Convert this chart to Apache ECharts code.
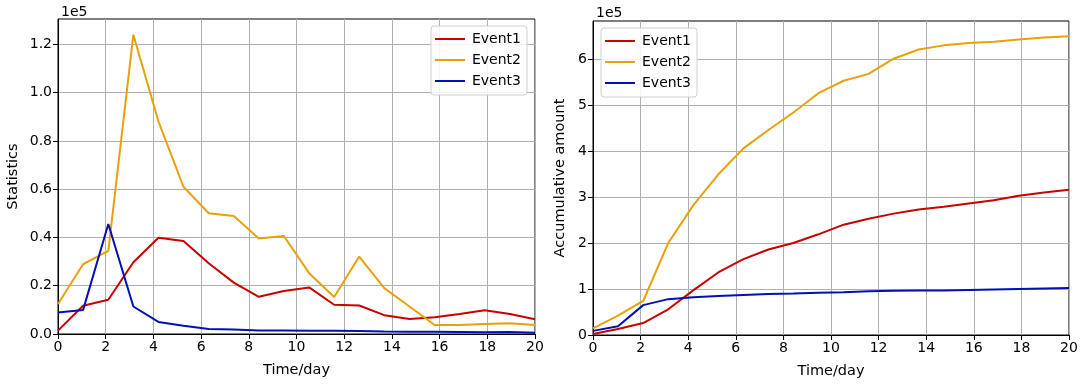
<!DOCTYPE html>
<html>
<head>
<meta charset="utf-8">
<script src="https://cdn.jsdelivr.net/npm/echarts@6/dist/echarts.min.js"></script>
<style>
  html, body { margin: 0; padding: 0; background: #fff; }
  #chart { width: 1084px; height: 384px; }
</style>
</head>
<body>
<div id="chart"></div>
<script>
// time points (day)
const days = [0, 1.05, 2.11, 3.16, 4.21, 5.26, 6.32, 7.37, 8.42, 9.47,
  10.53, 11.58, 12.63, 13.68, 14.74, 15.79, 16.84, 17.89, 18.95, 20]

// daily statistics
const stat1 = [1400, 11700, 14200, 29700, 39900, 38500, 29300, 21300, 15400, 17800,
  19300, 12100, 11800, 7800, 6200, 6900, 8300, 9800, 8300, 6100]
const stat2 = [12400, 28900, 34400, 124000, 88100, 61000, 50000, 48900, 39600, 40600,
  25200, 15300, 32100, 19000, 11400, 3700, 3700, 4100, 4500, 3700]
const stat3 = [8900, 9900, 45600, 11400, 5000, 3400, 2100, 1900, 1500, 1400,
  1300, 1300, 1200, 1000, 900, 900, 800, 700, 800, 500]

// accumulative amount
const acc1 = [2000, 13000, 26000, 56000, 97000, 136000, 165000, 186000, 200000, 219000,
  240000, 253000, 264000, 273000, 279000, 286000, 293000, 303000, 310000, 316000]
const acc2 = [14400, 42000, 74000, 200000, 282000, 349000, 406000, 446000, 484000, 526000,
  553000, 568000, 601000, 621000, 630000, 635000, 638000, 643000, 647000, 650000]
const acc3 = [9000, 19000, 65000, 78000, 82000, 85000, 87000, 89000, 90000, 92000,
  93000, 95000, 96000, 97000, 97000, 98000, 99000, 100000, 101000, 102000]

const statTicks = [0, 20000, 40000, 60000, 80000, 100000, 120000]
const accTicks = [0, 100000, 200000, 300000, 400000, 500000, 600000]

const names = ['Event1', 'Event2', 'Event3']
const colors = ['#c80000', '#e8a10a', '#0010b4']

const FONT = 'DejaVu Sans'
const txt = { fontFamily: FONT, fontSize: 14, color: '#000' }

function pairs(ys) {
  return days.map((d, i) => [d, ys[i]])
}

function xAxis(gridIndex) {
  return {
    type: 'value',
    gridIndex,
    min: 0,
    max: 20,
    interval: 2,
    name: 'Time/day',
    nameLocation: 'middle',
    nameGap: 29,
    nameTextStyle: { ...txt, fontSize: 14.5 },
    axisLine: { show: true, lineStyle: { color: '#000', width: 1 } },
    axisTick: { show: true, length: 5, lineStyle: { color: '#000' } },
    axisLabel: { ...txt, margin: 6 },
    splitLine: { show: true, lineStyle: { color: '#b0b0b0', width: 1 } },
  }
}

function yAxis(gridIndex, max, ticks, name, nameGap, fmt) {
  return {
    type: 'value',
    gridIndex,
    min: 0,
    max,
    name,
    nameLocation: 'middle',
    nameGap,
    nameTextStyle: { ...txt, fontSize: 14.5 },
    axisLine: { show: true, lineStyle: { color: '#000', width: 1 } },
    axisTick: { show: true, length: 5, lineStyle: { color: '#000' }, customValues: ticks },
    axisLabel: { ...txt, margin: 6, customValues: ticks, formatter: fmt },
    splitLine: { show: true, lineStyle: { color: '#b0b0b0', width: 1 } },
  }
}

function legend(pos) {
  return {
    ...pos,
    orient: 'vertical',
    data: names,
    icon: 'rect',
    itemWidth: 30,
    itemHeight: 2,
    itemGap: 5,
    padding: [5, 6, 6, 4],
    borderColor: '#d0d0d0',
    borderWidth: 1,
    borderRadius: 3,
    backgroundColor: 'rgba(255,255,255,0.85)',
    textStyle: { ...txt, lineHeight: 16, padding: [0, 0, 0, 2] },
  }
}

function lines(ySets, axisIndex) {
  return ySets.map((ys, i) => ({
    name: names[i],
    type: 'line',
    xAxisIndex: axisIndex,
    yAxisIndex: axisIndex,
    data: pairs(ys),
    showSymbol: false,
    animation: false,
    lineStyle: { color: colors[i], width: 2 },
    itemStyle: { color: colors[i] },
  }))
}

const chart = echarts.init(document.getElementById('chart'), null, { renderer: 'canvas' })
chart.setOption({
  backgroundColor: '#fff',
  animation: false,
  title: [
    { text: '1e5', left: 56, top: 0, textStyle: { ...txt, fontWeight: 'normal' } },
    { text: '1e5', left: 591, top: 1, textStyle: { ...txt, fontWeight: 'normal' } },
  ],
  grid: [
    { left: 58, right: 549, top: 19, bottom: 50, show: true, borderColor: '#000', borderWidth: 1 },
    { left: 593, right: 15, top: 21, bottom: 48, show: true, borderColor: '#000', borderWidth: 1 },
  ],
  legend: [
    legend({ right: 557, top: 26 }),
    legend({ left: 601, top: 28 }),
  ],
  xAxis: [xAxis(0), xAxis(1)],
  yAxis: [
    yAxis(0, 130500, statTicks, 'Statistics', 37, (v) => (v / 1e5).toFixed(1)),
    yAxis(1, 683000, accTicks, 'Accumulative amount', 25, (v) => String(Math.round(v / 1e5))),
  ],
  series: [...lines([stat1, stat2, stat3], 0), ...lines([acc1, acc2, acc3], 1)],
})
</script>
</body>
</html>
